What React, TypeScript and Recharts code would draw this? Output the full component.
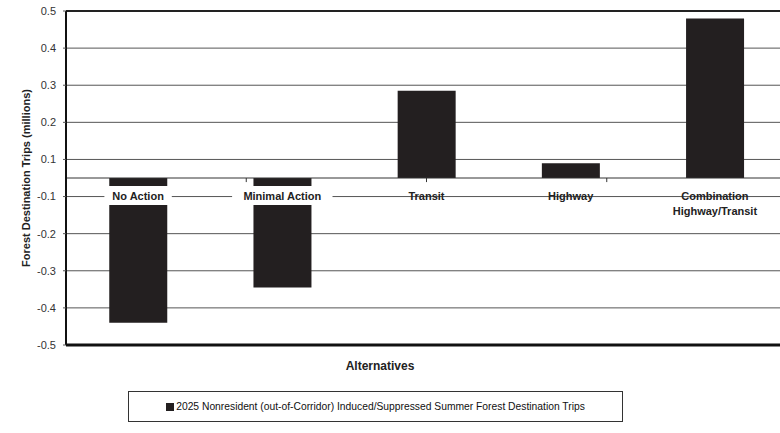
import { BarChart, Bar, XAxis, YAxis, CartesianGrid, ReferenceLine, ReferenceDot } from 'recharts';

const categories = ['No Action', 'Minimal Action', 'Transit', 'Highway', 'Combination\nHighway/Transit'];
const tripValues = [-0.44, -0.345, 0.285, 0.09, 0.48];
const yTickLabels = [0.5, 0.4, 0.3, 0.2, 0.1, -0.1, -0.2, -0.3, -0.4, -0.5];
const seriesName = '2025 Nonresident (out-of-Corridor) Induced/Suppressed Summer Forest Destination Trips';

// the printed axis has no 0 tick: the 0.1 and -0.1 lines sit half a step either side of the baseline
const HALF_STEP = 0.05;
const toPlot = (v: number) => (v === 0 ? 0 : v - Math.sign(v) * HALF_STEP);
const fromPlot = (v: number) => (v === 0 ? 0 : v + Math.sign(v) * HALF_STEP);

const data = categories.map((name, i) => ({ name, raw: tripValues[i], value: toPlot(tripValues[i]) }));
const yTicks = yTickLabels.map(toPlot);

const BAR = '#231f20';

function CategoryLabel({ cx, cy, name, boxed }: { cx: number; cy: number; name: string; boxed: boolean }) {
  const lines = name.split('\n');
  const w = Math.max(...lines.map(l => l.length)) * 6.6 + 8;
  return (
    <g>
      {boxed && <rect x={cx - w / 2} y={cy + 8} width={w} height={19} fill="#fff" />}
      {lines.map((l, i) => (
        <text key={i} x={cx} y={cy + 17.5 + i * 15.5} textAnchor="middle" dominantBaseline="central"
          fontSize={11} fontWeight="bold" fill="#222">
          {l}
        </text>
      ))}
    </g>
  );
}

export default function App() {
  return (
    <div style={{
      position: 'absolute', left: 0, top: 0, width: 780, height: 433, overflow: 'hidden',
      background: '#fff', fontFamily: '"Liberation Sans", Arial, sans-serif',
    }}>
      <BarChart width={800} height={433} data={data} margin={{ top: 11, right: 13, bottom: 88, left: 0 }}
        barCategoryGap="30%">
        <CartesianGrid vertical={false} stroke="#555" />
        <XAxis dataKey="name" hide />
        <XAxis xAxisId="grid" type="number" domain={[0, categories.length]} allowDataOverflow hide />
        <YAxis
          type="number"
          domain={[toPlot(-0.5), toPlot(0.5)]}
          ticks={yTicks}
          interval={0}
          width={66}
          tickSize={3}
          tickMargin={7}
          tickFormatter={(v: number) => fromPlot(v).toFixed(1)}
          tick={{ fontSize: 11, fill: '#333' }}
          tickLine={{ stroke: '#555' }}
          axisLine={{ stroke: '#111', strokeWidth: 2 }}
          label={({ viewBox }: any) => (
            <text
              x={26}
              y={viewBox.y + viewBox.height / 2}
              transform={`rotate(-90, 26, ${viewBox.y + viewBox.height / 2})`}
              textAnchor="middle"
              dominantBaseline="central"
              fontSize={11}
              fontWeight="bold"
              fill="#222"
            >
              Forest Destination Trips (millions)
            </text>
          )}
        />
        <Bar dataKey="value" name={seriesName} fill={BAR} isAnimationActive={false} />
        <ReferenceLine y={0} stroke="#333" />
        {categories.slice(1).map((_, i) => (
          <ReferenceLine key={i} xAxisId="grid" stroke="#333"
            segment={[{ x: i + 1, y: 0 }, { x: i + 1, y: -0.011 }]} />
        ))}
        <ReferenceLine y={toPlot(0.5)} stroke="#222" strokeWidth={2} />
        <ReferenceLine y={toPlot(-0.5)} stroke="#111" strokeWidth={3} />
        {data.map(d => (
          <ReferenceDot key={d.name} x={d.name} y={0} r={0}
            shape={(p: any) => <CategoryLabel cx={p.cx} cy={p.cy} name={d.name} boxed={d.raw < 0} />} />
        ))}
      </BarChart>
      <div style={{ position: 'absolute', left: 0, top: 359, width: 760, textAlign: 'center', fontSize: 12, fontWeight: 'bold', color: '#222' }}>
        Alternatives
      </div>
      <div style={{
        position: 'absolute', left: 128, top: 391, boxSizing: 'border-box', width: 495, height: 31,
        border: '1px solid #333', display: 'flex', alignItems: 'center', justifyContent: 'center',
        fontSize: 10.3, color: '#111',
      }}>
        <span style={{ display: 'inline-block', width: 8, height: 8, background: BAR, marginRight: 2 }} />
        {seriesName}
      </div>
    </div>
  );
}
